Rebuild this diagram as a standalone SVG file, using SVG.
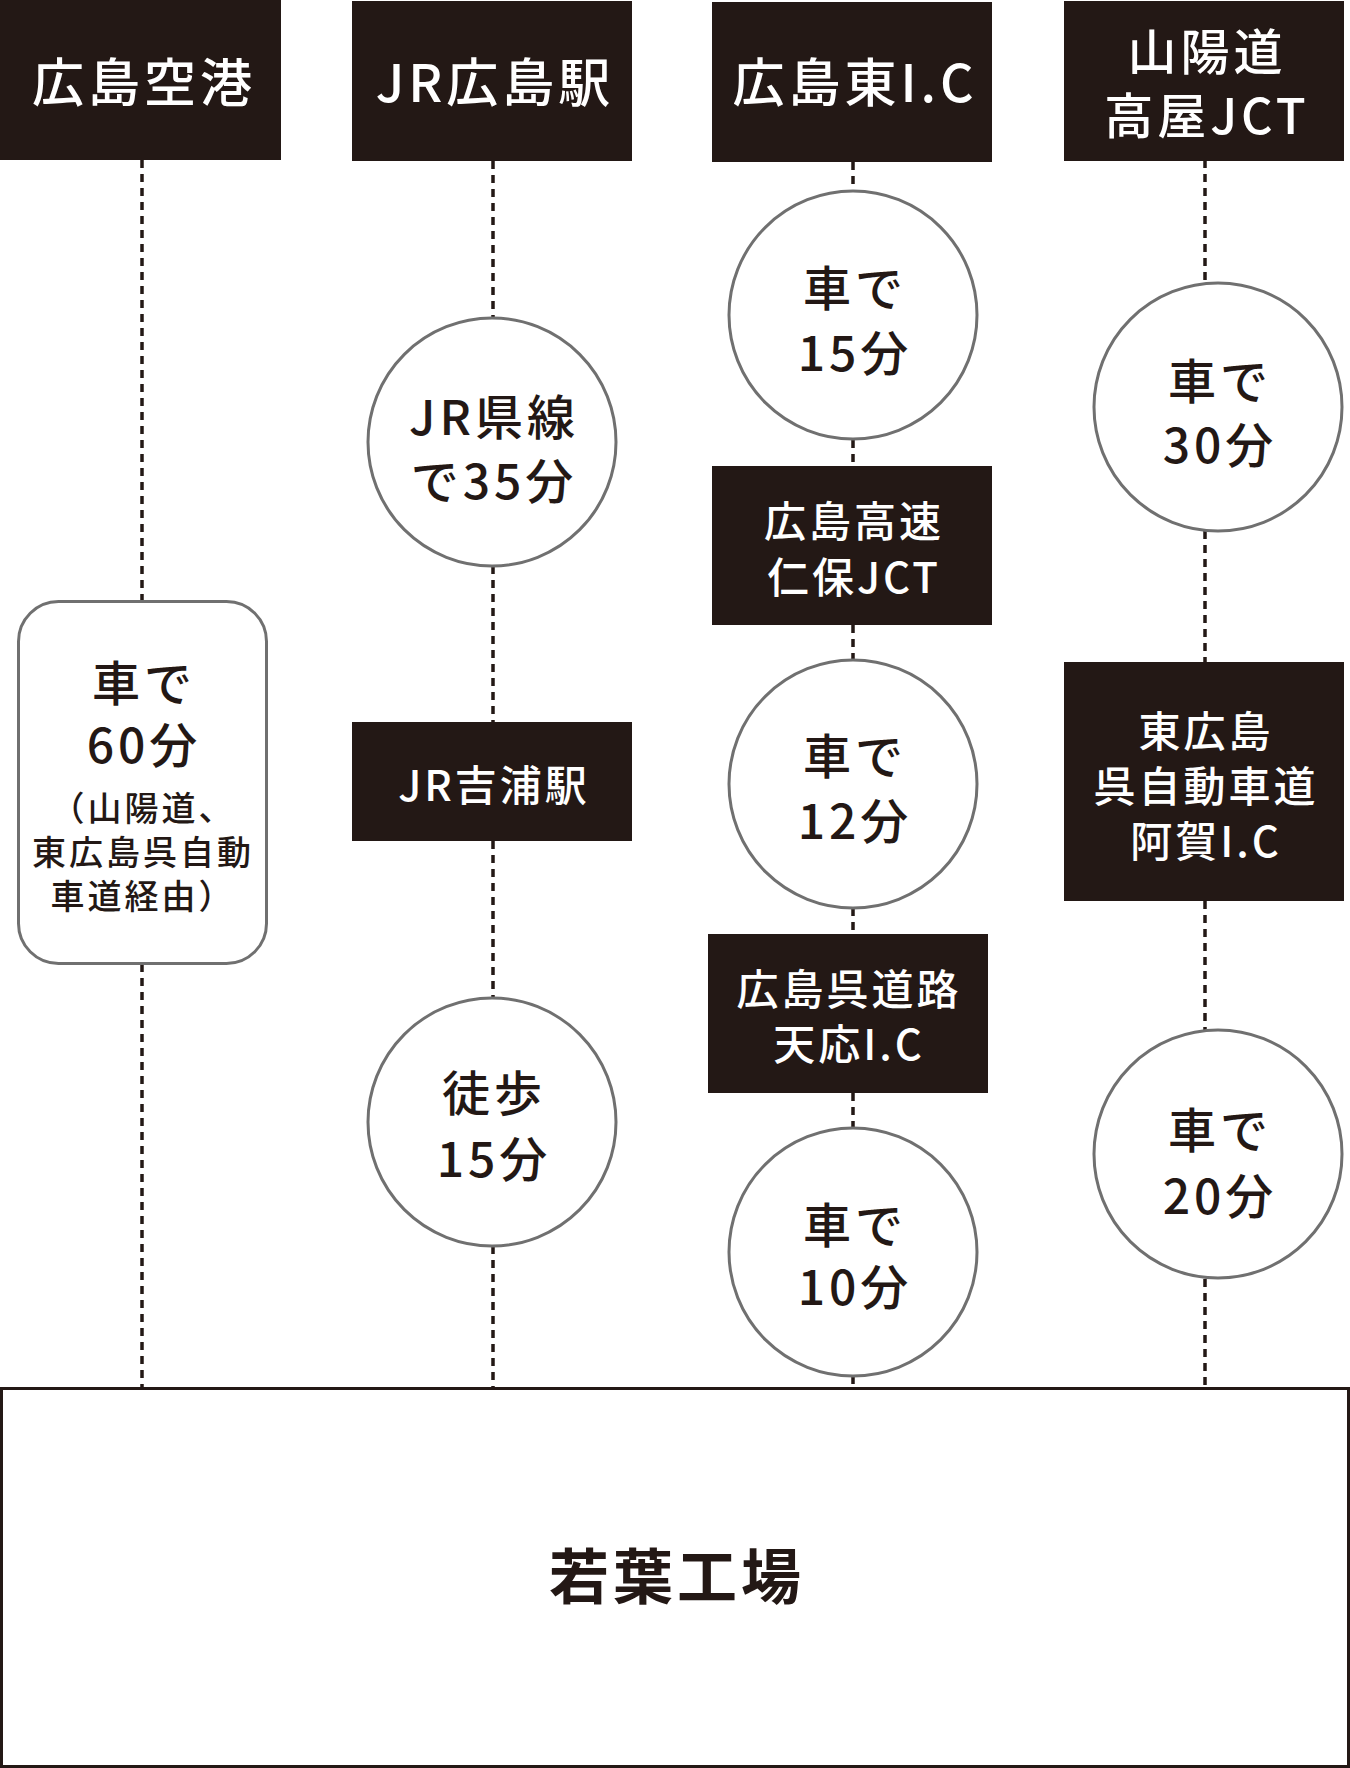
<svg xmlns="http://www.w3.org/2000/svg" width="1350" height="1768" viewBox="0 0 1350 1768">
<style>
.box{fill:#231815}
.bt{fill:#fff;font-family:"Noto Sans CJK JP","Noto Sans",sans-serif;text-anchor:middle;font-weight:500}
.b1{font-size:52px;letter-spacing:4px}
.b1s{font-size:49px;letter-spacing:4px}
.b2{font-size:42px;letter-spacing:3px}
.ci{fill:#fff;stroke:#707070;stroke-width:3}
.ct{fill:#231815;font-family:"Noto Sans CJK JP","Noto Sans",sans-serif;text-anchor:middle;font-size:48px;letter-spacing:4px;font-weight:500}
.cs{font-size:34px;letter-spacing:3px}
.dash{stroke:#231815;stroke-width:3.5;stroke-dasharray:8 6;fill:none}
</style>
<rect width="1350" height="1768" fill="#fff"/>
<g id="connectors">
<line class="dash" x1="142" y1="160" x2="142" y2="601"/>
<line class="dash" x1="142" y1="964" x2="142" y2="1387"/>
<line class="dash" x1="493" y1="161" x2="493" y2="318"/>
<line class="dash" x1="493" y1="566" x2="493" y2="722"/>
<line class="dash" x1="493" y1="841" x2="493" y2="998"/>
<line class="dash" x1="493" y1="1246" x2="493" y2="1387"/>
<line class="dash" x1="853" y1="162" x2="853" y2="192"/>
<line class="dash" x1="853" y1="440" x2="853" y2="466"/>
<line class="dash" x1="853" y1="625" x2="853" y2="660"/>
<line class="dash" x1="853" y1="908" x2="853" y2="934"/>
<line class="dash" x1="853" y1="1093" x2="853" y2="1128"/>
<line class="dash" x1="853" y1="1376" x2="853" y2="1387"/>
<line class="dash" x1="1205" y1="160" x2="1205" y2="284"/>
<line class="dash" x1="1205" y1="531" x2="1205" y2="662"/>
<line class="dash" x1="1205" y1="901" x2="1205" y2="1032"/>
<line class="dash" x1="1205" y1="1279" x2="1205" y2="1387"/>
</g>
<g id="hiroshima-airport">
<rect class="box" x="0" y="0" width="281" height="160"/>
<text class="bt b1" x="144" y="102">広島空港</text>
</g>
<g id="jr-hiroshima">
<rect class="box" x="352" y="1" width="280" height="160"/>
<text class="bt b1" x="495" y="102">JR広島駅</text>
</g>
<g id="hiroshima-higashi-ic">
<rect class="box" x="712" y="2" width="280" height="160"/>
<text class="bt b1" x="855" y="102">広島東I.C</text>
</g>
<g id="takaya-jct">
<rect class="box" x="1064" y="1" width="280" height="160"/>
<text class="bt b1s" x="1207" y="70">山陽道</text>
<text class="bt b1s" x="1207" y="134">高屋JCT</text>
</g>
<g id="car60">
<rect x="18.5" y="601.5" width="248" height="362" rx="40" fill="#fff" stroke="#707070" stroke-width="3"/>
<text class="ct" x="144" y="701">車で</text>
<text class="ct" x="144" y="763">60分</text>
<text class="ct cs" x="143" y="821">（山陽道、</text>
<text class="ct cs" x="143" y="865">東広島呉自動</text>
<text class="ct cs" x="143" y="909">車道経由）</text>
</g>
<g id="jr-kure-line">
<circle class="ci" cx="492" cy="442" r="124"/>
<text class="ct" x="494" y="435">JR県線</text>
<text class="ct" x="494" y="499">で35分</text>
</g>
<g id="jr-yoshiura">
<rect class="box" x="352" y="722" width="280" height="119"/>
<text class="bt b2" x="494" y="801">JR吉浦駅</text>
</g>
<g id="walk15">
<circle class="ci" cx="492" cy="1122" r="124"/>
<text class="ct" x="494" y="1111">徒歩</text>
<text class="ct" x="494" y="1177">15分</text>
</g>
<g id="car15">
<circle class="ci" cx="853" cy="315" r="124"/>
<text class="ct" x="855" y="306">車で</text>
<text class="ct" x="855" y="371">15分</text>
</g>
<g id="niho-jct">
<rect class="box" x="712" y="466" width="280" height="159"/>
<text class="bt b2" x="854" y="537">広島高速</text>
<text class="bt b2" x="854" y="593">仁保JCT</text>
</g>
<g id="car12">
<circle class="ci" cx="853" cy="784" r="124"/>
<text class="ct" x="855" y="774">車で</text>
<text class="ct" x="855" y="839">12分</text>
</g>
<g id="tenno-ic">
<rect class="box" x="708" y="934" width="280" height="159"/>
<text class="bt b2" x="849" y="1005">広島呉道路</text>
<text class="bt b2" x="849" y="1060">天応I.C</text>
</g>
<g id="car10">
<circle class="ci" cx="853" cy="1252" r="124"/>
<text class="ct" x="855" y="1243">車で</text>
<text class="ct" x="855" y="1305">10分</text>
</g>
<g id="car30">
<circle class="ci" cx="1218" cy="407" r="124"/>
<text class="ct" x="1220" y="399">車で</text>
<text class="ct" x="1220" y="463">30分</text>
</g>
<g id="aga-ic">
<rect class="box" x="1064" y="662" width="280" height="239"/>
<text class="bt b2" x="1206" y="747">東広島</text>
<text class="bt b2" x="1206" y="802">呉自動車道</text>
<text class="bt b2" x="1206" y="857">阿賀I.C</text>
</g>
<g id="car20">
<circle class="ci" cx="1218" cy="1154" r="124"/>
<text class="ct" x="1220" y="1148">車で</text>
<text class="ct" x="1220" y="1214">20分</text>
</g>
<g id="wakaba-factory">
<rect x="1.5" y="1388.5" width="1347" height="378" fill="#fff" stroke="#231815" stroke-width="3"/>
<text x="677" y="1599" text-anchor="middle" font-family="Noto Sans CJK JP, Noto Sans, sans-serif" font-size="60" font-weight="bold" fill="#231815" letter-spacing="4">若葉工場</text>
</g>
</svg>
